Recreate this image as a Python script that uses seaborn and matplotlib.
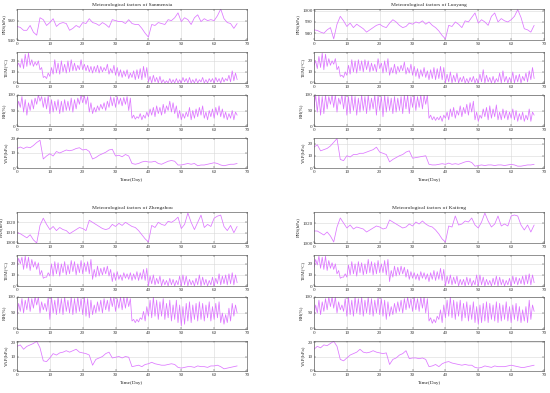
import numpy as np
import pandas as pd
import matplotlib
matplotlib.use("Agg")
import matplotlib.pyplot as plt
import seaborn as sns

# ---------------- data ----------------
cities = ["Sanmenxia", "Luoyang", "Zhengzhou", "Kaifeng"]
factor_labels = ["PRS(hPa)", "TEM(\u00b0C)", "RH(%)", "VAP(hPa)"]
xticks = [0, 10, 20, 30, 40, 50, 60, 70]

# daily series (days 0..67)
sanmenxia_prs = [954, 953, 950, 950, 955, 948, 945, 963, 961, 955,
                 958, 962, 954, 957, 958, 957, 950, 952, 955, 953,
                 958, 957, 962, 958, 957, 955, 958, 956, 953, 961,
                 960, 959, 959, 957, 961, 957, 956, 956, 952, 947,
                 943, 956, 955, 958, 957, 956, 961, 960, 963, 968,
                 959, 963, 961, 956, 963, 966, 959, 962, 960, 961,
                 960, 965, 972, 962, 958, 957, 952, 957]
sanmenxia_vap = [13, 14, 13, 14, 13.5, 15, 17, 18.5, 6, 8,
                 9.5, 8, 11, 10, 11, 12, 11.5, 12, 13, 13.5,
                 12, 12.5, 11, 6, 7, 8.5, 9.5, 10.5, 12, 12.5,
                 8, 8.5, 7.5, 9, 8, 3, 2.5, 3, 4, 4.5,
                 4, 4, 4.5, 3, 2.5, 3.5, 4.5, 5, 4.5, 2,
                 2, 2.5, 3, 2.5, 3, 1.5, 2, 2, 2.5, 3,
                 3.5, 3, 2, 1.5, 2, 2.5, 2.5, 3]
# half-day series (morning / afternoon, days 0..67)
sanmenxia_tem = [15, 18, 14, 22, 13, 26, 15, 27, 16, 21, 15, 19, 16, 20, 12, 14, 5, 6, 4, 9,
                 6, 14, 8, 21, 9, 18, 8, 20, 10, 17, 9, 20, 10, 21, 11, 18, 11, 16, 12, 21,
                 12, 17, 11, 16, 10, 15, 9, 15, 10, 16, 9, 15, 10, 14, 11, 17, 8, 13, 9, 16,
                 7, 14, 6, 12, 5, 11, 6, 12, 4, 9, 5, 11, 3, 12, 4, 13, 3, 15, 5, 14,
                 1, 6, 0, 7, 1, 5, 0, 6, 0, 3, 0, 2, 0, 4, 0, 3, 0, 4, 0, 3,
                 0, 5, 1, 4, 0, 5, 0, 3, 0, 4, 0, 3, 1, 5, 0, 3, 0, 4, 1, 4,
                 0, 5, 1, 4, 0, 5, 1, 4, 2, 7, 1, 11, 2, 9, 3]
sanmenxia_rh = [55, 80, 60, 95, 45, 85, 35, 75, 50, 85, 55, 90, 70, 100, 80, 95, 60, 92, 55, 98,
                40, 85, 45, 80, 50, 85, 40, 80, 45, 85, 50, 80, 50, 90, 45, 85, 55, 90, 70, 100,
                75, 98, 70, 95, 45, 75, 40, 60, 45, 65, 50, 70, 55, 75, 50, 80, 60, 95, 65, 92,
                60, 95, 70, 90, 65, 92, 70, 95, 50, 90, 25, 35, 22, 30, 25, 40, 20, 35, 25, 45,
                30, 55, 35, 60, 30, 65, 40, 60, 35, 70, 40, 65, 50, 80, 45, 75, 40, 65, 25, 50,
                20, 40, 25, 45, 30, 60, 20, 50, 25, 55, 30, 60, 35, 65, 25, 45, 20, 50, 30, 55,
                25, 60, 35, 65, 30, 55, 25, 45, 20, 40, 25, 50, 20, 45, 35]

luoyang_prs = [983, 982.5, 981, 980, 983, 985, 975, 988, 995, 991,
               986, 989, 985, 988, 986, 984, 981, 983, 985, 987,
               988, 986, 985, 989, 992, 990, 987, 985, 986, 989,
               988, 990, 989, 991, 988, 990, 987, 985, 982, 978,
               975, 987, 986, 990, 988, 985, 991, 990, 994, 998,
               989, 992, 990, 987, 995, 998, 990, 993, 991, 990,
               992, 995, 1001, 994, 984, 983, 981, 987]
luoyang_vap = [17, 19, 14, 15, 16, 18, 21, 24, 7, 6,
               10, 9, 11, 11, 12, 12, 13, 14, 15, 17,
               13, 12, 11, 5, 7, 8.5, 10, 11, 13, 14,
               8, 8.5, 9, 9.5, 10, 3, 2.5, 2.5, 3, 3.5,
               3, 4, 3, 3.5, 3, 4, 5, 5.5, 4.5, 1.5,
               2, 2.5, 2, 2.5, 2.5, 2, 2.5, 2.5, 2, 2.5,
               3, 2.5, 1.5, 1.5, 2, 2.5, 2.5, 3]
luoyang_tem = [16, 20, 13, 24, 14, 27, 12, 26, 15, 22, 16, 20, 17, 22, 12, 15, 6, 7, 5, 10,
               7, 16, 8, 21, 10, 20, 9, 21, 11, 20, 10, 21, 12, 20, 10, 18, 11, 17, 10, 22,
               13, 18, 9, 20, 10, 22, 7, 14, 9, 17, 8, 15, 10, 16, 11, 19, 8, 14, 9, 17,
               7, 15, 6, 13, 4, 12, 6, 14, 5, 11, 3, 12, 4, 14, 3, 13, 4, 15, 3, 14,
               0, 8, 1, 10, 0, 7, 1, 9, 0, 5, 1, 6, 0, 4, 0, 5, 1, 6, 0, 4,
               0, 8, 1, 12, 0, 7, 1, 5, 0, 6, 0, 4, 1, 9, 0, 11, 1, 6, 0, 5,
               1, 10, 0, 7, 1, 8, 0, 6, 2, 9, 1, 11, 3, 14, 4]
luoyang_rh = [60, 100, 45, 100, 35, 95, 40, 100, 55, 95, 70, 100, 60, 100, 45, 90, 70, 100, 55, 100,
              35, 95, 40, 100, 50, 95, 35, 90, 45, 100, 50, 95, 40, 100, 50, 90, 55, 100, 35, 100,
              50, 95, 30, 100, 45, 95, 50, 90, 40, 95, 45, 90, 50, 95, 40, 100, 55, 100, 40, 95,
              60, 100, 50, 95, 60, 100, 55, 100, 70, 100, 25, 35, 20, 30, 18, 28, 20, 32, 15, 35,
              25, 45, 20, 55, 30, 60, 25, 50, 35, 65, 30, 60, 40, 70, 35, 75, 45, 80, 20, 45,
              15, 35, 25, 55, 30, 60, 20, 65, 25, 55, 30, 68, 20, 45, 20, 55, 25, 50, 20, 45,
              25, 55, 20, 50, 15, 40, 20, 45, 15, 35, 20, 55, 15, 45, 35]

zhengzhou_prs = [1010, 1009, 1007, 1005, 1008, 1003, 1000, 1017, 1024, 1018,
                 1013, 1016, 1012, 1015, 1013, 1012, 1009, 1011, 1013, 1015,
                 1014, 1012, 1022, 1020, 1018, 1016, 1014, 1013, 1014, 1018,
                 1016, 1019, 1017, 1020, 1018, 1016, 1015, 1012, 1008, 1004,
                 1001, 1017, 1015, 1020, 1018, 1017, 1021, 1020, 1022, 1025,
                 1014, 1018, 1029, 1020, 1013, 1020, 1027, 1015, 1018, 1016,
                 1024, 1026, 1027, 1016, 1012, 1017, 1010, 1016]
zhengzhou_vap = [17, 18, 15, 17, 18, 19, 20.5, 16, 7, 6.5,
                 9, 12, 11, 12.5, 13, 14, 13, 14, 15, 13,
                 12.5, 12, 11, 4, 8, 9, 10, 12, 13, 9,
                 9.5, 10, 9, 10, 9.5, 3, 3.5, 4, 3, 4.5,
                 5, 6, 5, 4.5, 4, 4, 4.5, 5, 4.5, 2.5,
                 2, 2.5, 3, 3, 2.5, 3.5, 3, 3, 2.5, 3.5,
                 3.5, 4, 3, 1.5, 2, 2.5, 3, 3.5]
zhengzhou_tem = [18, 25, 20, 26, 15, 27, 16, 26, 14, 24, 17, 22, 15, 21, 10, 14, 7, 8, 8, 12,
                 9, 20, 9, 22, 11, 21, 9, 20, 12, 22, 10, 19, 11, 23, 13, 22, 10, 20, 12, 23,
                 11, 21, 13, 22, 11, 24, 6, 15, 8, 18, 9, 16, 10, 17, 11, 18, 9, 15, 4, 12,
                 5, 13, 6, 10, 5, 12, 7, 11, 6, 12, 5, 11, 6, 13, 5, 12, 6, 15, 5, 16,
                 0, 9, 2, 10, 1, 7, 2, 9, 0, 6, 1, 5, 0, 7, 1, 6, 0, 5, 1, 9,
                 0, 10, 1, 9, 0, 6, 1, 5, 0, 7, 1, 10, 0, 8, 1, 6, 0, 5, 1, 8,
                 0, 7, 2, 11, 1, 9, 2, 10, 1, 11, 2, 12, 1, 10, 3]
zhengzhou_rh = [45, 80, 55, 95, 50, 90, 60, 100, 55, 95, 65, 100, 75, 100, 50, 85, 60, 80, 55, 100,
                30, 100, 50, 90, 45, 100, 50, 95, 45, 100, 55, 90, 50, 100, 45, 95, 50, 100, 55, 95,
                45, 100, 40, 95, 35, 90, 45, 75, 50, 85, 55, 90, 50, 95, 60, 90, 55, 100, 70, 100,
                55, 95, 65, 100, 60, 100, 65, 100, 70, 95, 25, 30, 20, 30, 22, 35, 30, 55, 25, 70,
                40, 90, 35, 100, 40, 90, 30, 85, 40, 95, 30, 80, 35, 90, 25, 75, 30, 90, 20, 75,
                10, 70, 15, 80, 25, 85, 20, 75, 30, 80, 25, 85, 30, 80, 25, 75, 35, 85, 25, 70,
                30, 80, 35, 85, 20, 50, 15, 45, 20, 65, 25, 80, 40, 75, 50]

kaifeng_prs = [1012, 1012, 1010, 1008, 1011, 1007, 1001, 1016, 1025, 1020,
               1015, 1018, 1014, 1016, 1015, 1014, 1011, 1013, 1015, 1017,
               1016, 1014, 1015, 1023, 1021, 1019, 1017, 1015, 1016, 1019,
               1017, 1021, 1019, 1022, 1019, 1017, 1016, 1013, 1009, 1004,
               1001, 1017, 1016, 1027, 1018, 1019, 1022, 1021, 1025, 1018,
               1015, 1021, 1030, 1022, 1016, 1019, 1027, 1017, 1019, 1017,
               1027, 1028, 1027, 1018, 1013, 1018, 1011, 1018]
kaifeng_vap = [15, 17, 16, 18, 17.5, 19, 20.5, 17, 8, 7,
               9, 11, 12, 13, 15, 13, 12.5, 13, 14, 13,
               12.5, 12, 12.5, 4.5, 8, 9, 11, 12, 14, 8.5,
               9, 9, 8.5, 9, 8, 3, 3.5, 4.5, 3, 5,
               6, 6.5, 5.5, 5, 4.5, 4, 4.5, 4, 4, 2.5,
               2, 2.5, 3.5, 3, 2.5, 3.5, 3, 3, 3, 3.5,
               4, 3.5, 3, 2.5, 2.5, 3, 3.5, 4]
kaifeng_tem = [17, 24, 19, 27, 16, 26, 15, 27, 14, 23, 16, 21, 15, 20, 11, 14, 7, 8, 8, 11,
               8, 19, 10, 22, 11, 20, 9, 22, 12, 21, 10, 20, 11, 24, 12, 22, 10, 21, 11, 23,
               12, 20, 12, 23, 10, 24, 4, 14, 8, 18, 9, 17, 10, 18, 11, 17, 8, 15, 6, 13,
               7, 12, 6, 11, 5, 13, 7, 12, 6, 11, 4, 12, 6, 14, 5, 13, 6, 16, 5, 15,
               0, 9, 2, 10, 1, 8, 2, 9, 0, 6, 1, 6, 0, 8, 1, 7, 0, 5, 1, 10,
               0, 10, 1, 8, 0, 6, 1, 5, 0, 7, 1, 9, 0, 8, 1, 6, 0, 5, 1, 7,
               0, 9, 2, 8, 1, 7, 2, 9, 1, 10, 2, 11, 1, 10, 3]
kaifeng_rh = [45, 75, 50, 90, 45, 85, 55, 95, 60, 100, 70, 100, 65, 100, 50, 85, 60, 75, 55, 95,
              40, 100, 45, 90, 40, 100, 50, 95, 45, 100, 40, 90, 50, 100, 45, 95, 40, 90, 50, 100,
              45, 95, 40, 90, 30, 85, 40, 70, 45, 80, 50, 85, 55, 90, 50, 95, 60, 100, 65, 95,
              55, 100, 60, 95, 55, 100, 65, 100, 50, 95, 25, 35, 18, 30, 20, 40, 30, 60, 20, 75,
              35, 90, 40, 100, 35, 90, 30, 85, 40, 90, 25, 80, 35, 85, 25, 75, 30, 85, 20, 70,
              15, 75, 20, 80, 25, 85, 20, 80, 30, 75, 25, 85, 20, 80, 25, 75, 30, 85, 25, 70,
              20, 75, 30, 80, 25, 70, 20, 60, 25, 70, 20, 90, 30, 75, 55]

series = {
    "Sanmenxia": [sanmenxia_prs, sanmenxia_tem, sanmenxia_rh, sanmenxia_vap],
    "Luoyang": [luoyang_prs, luoyang_tem, luoyang_rh, luoyang_vap],
    "Zhengzhou": [zhengzhou_prs, zhengzhou_tem, zhengzhou_rh, zhengzhou_vap],
    "Kaifeng": [kaifeng_prs, kaifeng_tem, kaifeng_rh, kaifeng_vap],
}
ylims = {
    "Sanmenxia": [(940, 972), (0, 28), (0, 100), (0, 20)],
    "Luoyang": [(974, 1001.5), (0, 28), (0, 100), (0, 24.5)],
    "Zhengzhou": [(1000, 1030), (0, 28), (0, 100), (0, 20.7)],
    "Kaifeng": [(1000, 1031), (0, 28), (0, 100), (0, 20.7)],
}
yticks = {
    "Sanmenxia": [[940, 960], [0, 10, 20], [0, 50, 100], [0, 10, 20]],
    "Luoyang": [[980, 990, 1000], [0, 10, 20], [0, 50, 100], [0, 10, 20]],
    "Zhengzhou": [[1000, 1010, 1020], [0, 10, 20], [0, 50, 100], [0, 10, 20]],
    "Kaifeng": [[1000, 1020], [0, 10, 20], [0, 50, 100], [0, 10, 20]],
}

# ---------------- style ----------------
sns.set_theme(style="ticks")
plt.rcParams["font.family"] = ["Liberation Serif", "DejaVu Serif"]
plt.rcParams["axes.linewidth"] = 0.45
plt.rcParams["xtick.major.width"] = 0.3
plt.rcParams["ytick.major.width"] = 0.3
plt.rcParams["xtick.major.size"] = 1.2
plt.rcParams["ytick.major.size"] = 1.2
plt.rcParams["xtick.direction"] = "in"
plt.rcParams["ytick.direction"] = "in"
plt.rcParams["xtick.major.pad"] = 1.4
plt.rcParams["ytick.major.pad"] = 1.0

line_color = "#DD77FF"
fig = plt.figure(figsize=(5.5, 3.93), dpi=100)
W, H = 550.0, 393.0

col_left = {"Sanmenxia": 17, "Luoyang": 314, "Zhengzhou": 17, "Kaifeng": 314}
group_rows = {
    "top": [(9, 40), (52, 83), (95, 126), (138, 168)],
    "bottom": [(212, 243), (255, 286), (297, 329), (341, 371)],
}
city_group = {"Sanmenxia": "top", "Luoyang": "top", "Zhengzhou": "bottom", "Kaifeng": "bottom"}
ax_width = 230

for city in cities:
    rows = group_rows[city_group[city]]
    for i, (y0, y1) in enumerate(rows):
        ax = fig.add_axes([col_left[city] / W, 1 - y1 / H, ax_width / W, (y1 - y0) / H])
        vals = series[city][i]
        step = 0.5 if len(vals) > 100 else 1.0
        df = pd.DataFrame({"t": np.arange(len(vals)) * step, "v": vals})
        sns.lineplot(data=df, x="t", y="v", ax=ax, color=line_color, linewidth=0.55)
        ax.set_xlim(0, 70)
        ax.set_ylim(*ylims[city][i])
        ax.set_xticks(xticks)
        ax.set_yticks(yticks[city][i])
        ax.tick_params(labelsize=3.6, colors="#333333", top=True, right=True)
        ax.grid(True, color="#d8d8d8", linewidth=0.4)
        ax.set_xlabel("")
        ax.set_ylabel(factor_labels[i], fontsize=3.6, labelpad=1.5)
        for s in ax.spines.values():
            s.set_color("#555555")
        if i == 0:
            ax.set_title(f"Meteorological factors of {city}", fontsize=3.9, pad=2)
        if i == 3:
            ax.set_xlabel("Time(Day)", fontsize=3.8, labelpad=3)

fig.savefig("out.png", dpi=100)
